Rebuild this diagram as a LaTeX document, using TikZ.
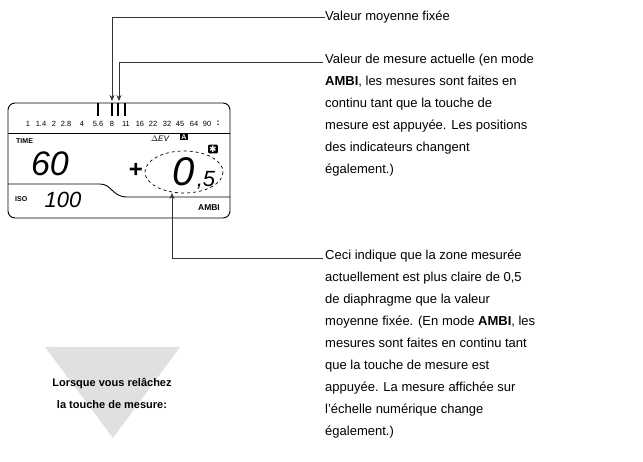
\documentclass[tikz,border=0pt]{standalone}
\usepackage{fontspec}
\setmainfont{Liberation Sans}
\newfontfamily\djv{DejaVu Sans}
\usetikzlibrary{arrows.meta}
\begin{document}
\begin{tikzpicture}[x=1pt,y=-1pt,
  txt/.style={anchor=west,font=\fontsize{13}{22}\selectfont,inner sep=0pt},
  lead/.style={draw=black!80,line width=0.8pt,-{Stealth[length=6pt,width=5pt]}},
  lcd/.style={line width=0.9pt},
  small/.style={font=\fontsize{7}{8}\selectfont\bfseries,inner sep=0pt},
  num/.style={font=\fontsize{7.5}{8}\selectfont,inner sep=0pt},
  seg/.style={font=\fontsize{28}{28}\selectfont\itshape,inner sep=0pt,text=black},
  bar/.style={line width=2.4pt}]
\useasboundingbox (0,0) rectangle (643,462);
% grey triangle
\fill[black!12] (45,347) -- (180,347) -- (113,438) -- cycle;
\node[font=\fontsize{11}{22}\selectfont\bfseries,align=center] (rel) at (112,393) {Lorsque vous relâchez\\la touche de mesure:};
% LCD
\draw[lcd,rounded corners=7pt] (8,103) rectangle (230,218);
\draw[lcd] (8,133) -- (230,133);
\draw[lcd] (8,184) -- (100,184) .. controls (112,184) and (112,197) .. (127,197) -- (230,197);
\foreach \x/\t [count=\i] in {28/1,41/1.4,54/2,66/2.8,82/4,98/5.6,112/8,126/11,140/16,153/22,167/32,180/45,194/64,207/90}
  \node[num] (n\i) at (\x,124) {\t};
\node[num,font=\fontsize{9}{9}\selectfont\bfseries] (ncol) at (218,123) {:};
\draw[bar] (98,103) -- (98,116);
\draw[bar] (112,103) -- (112,116);
\draw[bar] (118,103) -- (118,116);
\draw[bar] (125,103) -- (125,116);
\node[small,anchor=west] (time) at (16,141) {TIME};
\node[seg,font=\fontsize{34}{34}\selectfont\itshape] (sixty) at (50,164) {60};
\node[small,anchor=west] (iso) at (15,199) {ISO};
\node[seg,font=\fontsize{22}{22}\selectfont\itshape] (hund) at (63,200) {100};
\node[small,font=\fontsize{8}{8}\selectfont\itshape] (dev) at (160,139) {$\Delta$EV};
\node[small,fill=black,text=white,inner sep=1pt] (abox) at (184,137) {A};
\node[fill=black,text=white,rounded corners=1pt,inner sep=1pt,font=\djv\fontsize{9}{9}\selectfont\bfseries] (star) at (213,149) {✱};
\node[font=\fontsize{24}{24}\selectfont\bfseries,inner sep=0pt] (plus) at (136,170) {+};
\draw[dashed,line width=0.7pt] (184,172) ellipse (39 and 21);
\node[seg,font=\fontsize{40}{40}\selectfont\itshape] (zero) at (184,172) {0};
\node[seg,font=\fontsize{22}{22}\selectfont\itshape] (five) at (206,180) {,5};
\node[small,font=\fontsize{8.5}{8}\selectfont\bfseries] (ambi) at (209,208) {AMBI};
\coordinate (e1) at (112,101);
\coordinate (e2) at (119,101);
\coordinate (e3) at (172,193);
% texts
\node[txt] (t1) at (325,17) {Valeur moyenne fixée};
\node[txt,align=left,anchor=north west] (t2) at (325,54) {Valeur de mesure actuelle (en mode\\\textbf{AMBI}, les mesures sont faites en\\continu tant que la touche de\\mesure est appuyée. Les positions\\des indicateurs changent\\également.)};
\node[txt,align=left,anchor=north west] (t3) at (325,250) {Ceci indique que la zone mesurée\\actuellement est plus claire de 0,5\\de diaphragme que la valeur\\moyenne fixée. (En mode \textbf{AMBI}, les\\mesures sont faites en continu tant\\que la touche de mesure est\\appuyée. La mesure affichée sur\\l’échelle numérique change\\également.)};
\draw[lead] (t1.west) -- (112,17) -- (e1);
\draw[lead] (323,62) -- (119,62) -- (e2);
\draw[lead] (323,258) -- (172,258) -- (e3);
\end{tikzpicture}
\end{document}
